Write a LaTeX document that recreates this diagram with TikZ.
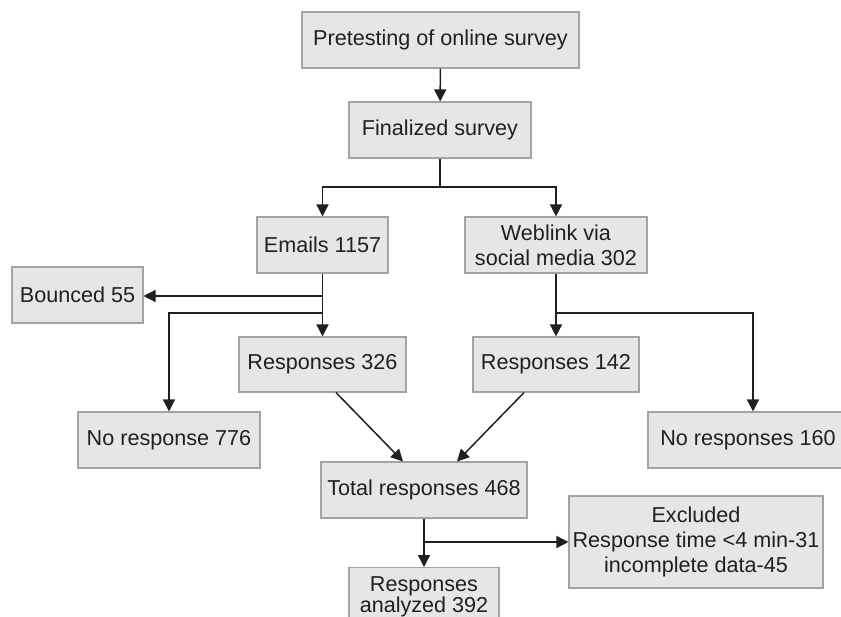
\documentclass[tikz,border=0pt]{standalone}
\usepackage{fontspec}
\setmainfont{Liberation Sans}
\usetikzlibrary{arrows.meta}
\definecolor{boxfill}{HTML}{E6E6E8}
\definecolor{boxline}{HTML}{A3A3A3}
\definecolor{ink}{HTML}{231F20}
\tikzset{
  box/.style={draw=boxline, line width=1.1pt, fill=boxfill, text=ink, inner sep=0pt, align=center,
    font=\fontsize{21.6}{25}\selectfont},
  arr/.style={draw=ink, line width=1.5pt, -{Triangle[width=12pt,length=12pt]}},
  ln/.style={draw=ink, line width=1.5pt}
}
\begin{document}
\begin{tikzpicture}[x=1pt,y=-1pt]
\useasboundingbox (0,0) rectangle (841,617);
\node[box, minimum width=277pt, minimum height=56pt] (pre) at (440.5,40) {Pretesting of online survey};
\node[box, minimum width=182pt, minimum height=56pt] (fin) at (440,130) {Finalized survey};
\node[box, minimum width=131pt, minimum height=56pt] (em) at (322.5,245) {Emails 1157};
\node[box, minimum width=182pt, minimum height=56pt] (web) at (556,245) {Weblink via\\social media 302};
\node[box, minimum width=131pt, minimum height=56pt] (bou) at (77.5,295) {Bounced 55};
\node[box, minimum width=167pt, minimum height=55pt] (r326) at (322.5,364.5) {Responses 326};
\node[box, minimum width=166pt, minimum height=55pt] (r142) at (556,364.5) {Responses 142};
\node[box, minimum width=182pt, minimum height=56pt] (nr776) at (169,440) {No response 776};
\node[box, minimum width=200pt, minimum height=56pt] (nr160) at (748,440) {No responses 160};
\node[box, minimum width=206pt, minimum height=56pt] (tot) at (424,490) {Total responses 468};
\node[box, minimum width=254pt, minimum height=92pt] (exc) at (696,542) {Excluded\\Response time <4 min-31\\incomplete data-45};
\node[box, font=\fontsize{21.6}{21}\selectfont, minimum width=150pt, inner ysep=8pt, text height=37pt, text depth=18pt, anchor=north] (ana) at (424,567) {Responses\\analyzed 392};
\coordinate (j1) at (440,187);
\coordinate (b1) at (322.5,296);
\coordinate (b2) at (322.5,313);
\coordinate (w1) at (556,313);
\coordinate (t1) at (424,542);
\draw[arr] (pre) -- (fin);
\draw[ln] (fin) -- (j1);
\draw[arr] (j1) -| (em);
\draw[arr] (j1) -| (web);
\draw[arr] (em) -- (r326);
\draw[arr] (b1) -- (b1 -| bou.east);
\draw[arr] (b2) -| (nr776);
\draw[arr] (web) -- (r142);
\draw[arr] (w1) -| ([xshift=5pt]nr160.north);
\draw[arr] ([xshift=13.5pt]r326.south) -- ([xshift=-21pt]tot.north);
\draw[arr] ([xshift=-32pt]r142.south) -- ([xshift=33pt]tot.north);
\draw[arr] (tot) -- (ana);
\draw[arr] (t1) -- (exc);
\end{tikzpicture}
\end{document}
